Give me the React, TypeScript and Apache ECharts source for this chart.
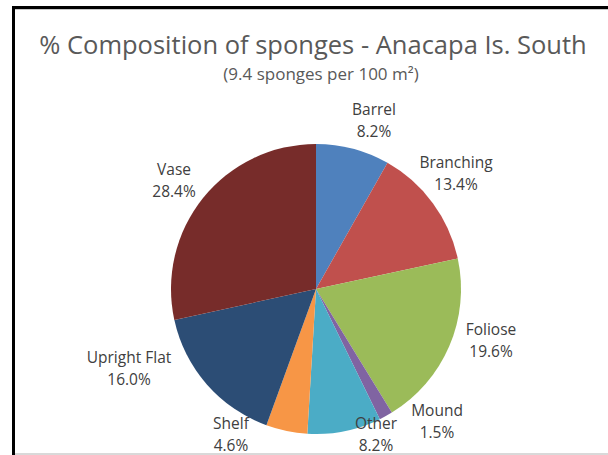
import React, { useEffect, useRef } from "react";
import * as echarts from "echarts";

const categories = ["Barrel", "Branching", "Foliose", "Mound", "Other", "Shelf", "Upright Flat", "Vase"];
const values = [8.2, 13.4, 19.6, 1.5, 8.2, 4.6, 16.0, 28.4];
const colors = ["#4F81BD", "#C0504D", "#9BBB59", "#8064A2", "#4BACC6", "#F79646", "#2C4D75", "#772C2A"];
// label centre positions (layout, px)
const labelPos: [number, number][] = [
  [374, 120],
  [456, 173],
  [491, 340],
  [437, 421],
  [376, 434],
  [231, 434],
  [129, 368],
  [174, 180],
];

const FONT = "'Open Sans', sans-serif";

export default function App() {
  const ref = useRef<HTMLDivElement>(null);
  useEffect(() => {
    if (!ref.current) return;
    const chart = echarts.init(ref.current, undefined, { renderer: "svg" });
    chart.setOption({
      animation: false,
      backgroundColor: "#ffffff",
      title: [
        {
          text: "% Composition of sponges - Anacapa Is. South",
          left: 308,
          textAlign: "center",
          top: 26,
          textStyle: { fontFamily: FONT, fontSize: 25.5, fontWeight: "normal", color: "#595959" },
        },
        {
          text: "(9.4 sponges per 100 m²)",
          left: 316,
          textAlign: "center",
          top: 60,
          textStyle: { fontFamily: FONT, fontSize: 17, fontWeight: "normal", color: "#595959" },
        },
      ],
      graphic: [
        { type: "rect", shape: { x: 12, y: 6, width: 3, height: 449 }, style: { fill: "#000" } },
        { type: "rect", shape: { x: 12, y: 6, width: 596, height: 3 }, style: { fill: "#000" } },
        { type: "rect", shape: { x: 15, y: 9, width: 593, height: 1 }, style: { fill: "#c8c8c8" } },
        { type: "rect", shape: { x: 15, y: 453, width: 593, height: 2 }, style: { fill: "#d9d9d9" } },
      ],
      series: [
        {
          type: "pie",
          center: [316, 289],
          radius: [0, 145],
          startAngle: 90,
          clockwise: true,
          avoidLabelOverlap: false,
          labelLine: { show: false },
          label: {
            show: true,
            position: "outside",
            fontFamily: FONT,
            fontSize: 15.5,
            color: "#404040",
            lineHeight: 22.5,
            align: "center",
            formatter: (p: any) => `${p.name}\n${Number(p.value).toFixed(1)}%`,
          },
          labelLayout: (p: any) => ({
            x: labelPos[p.dataIndex][0],
            y: labelPos[p.dataIndex][1],
            align: "center",
            verticalAlign: "middle",
          }),
          data: categories.map((c, i) => ({ name: c, value: values[i], itemStyle: { color: colors[i] } })),
        },
      ],
    });
    return () => chart.dispose();
  }, []);
  return <div ref={ref} style={{ position: "fixed", left: 0, top: 0, width: 608, height: 455 }} />;
}
